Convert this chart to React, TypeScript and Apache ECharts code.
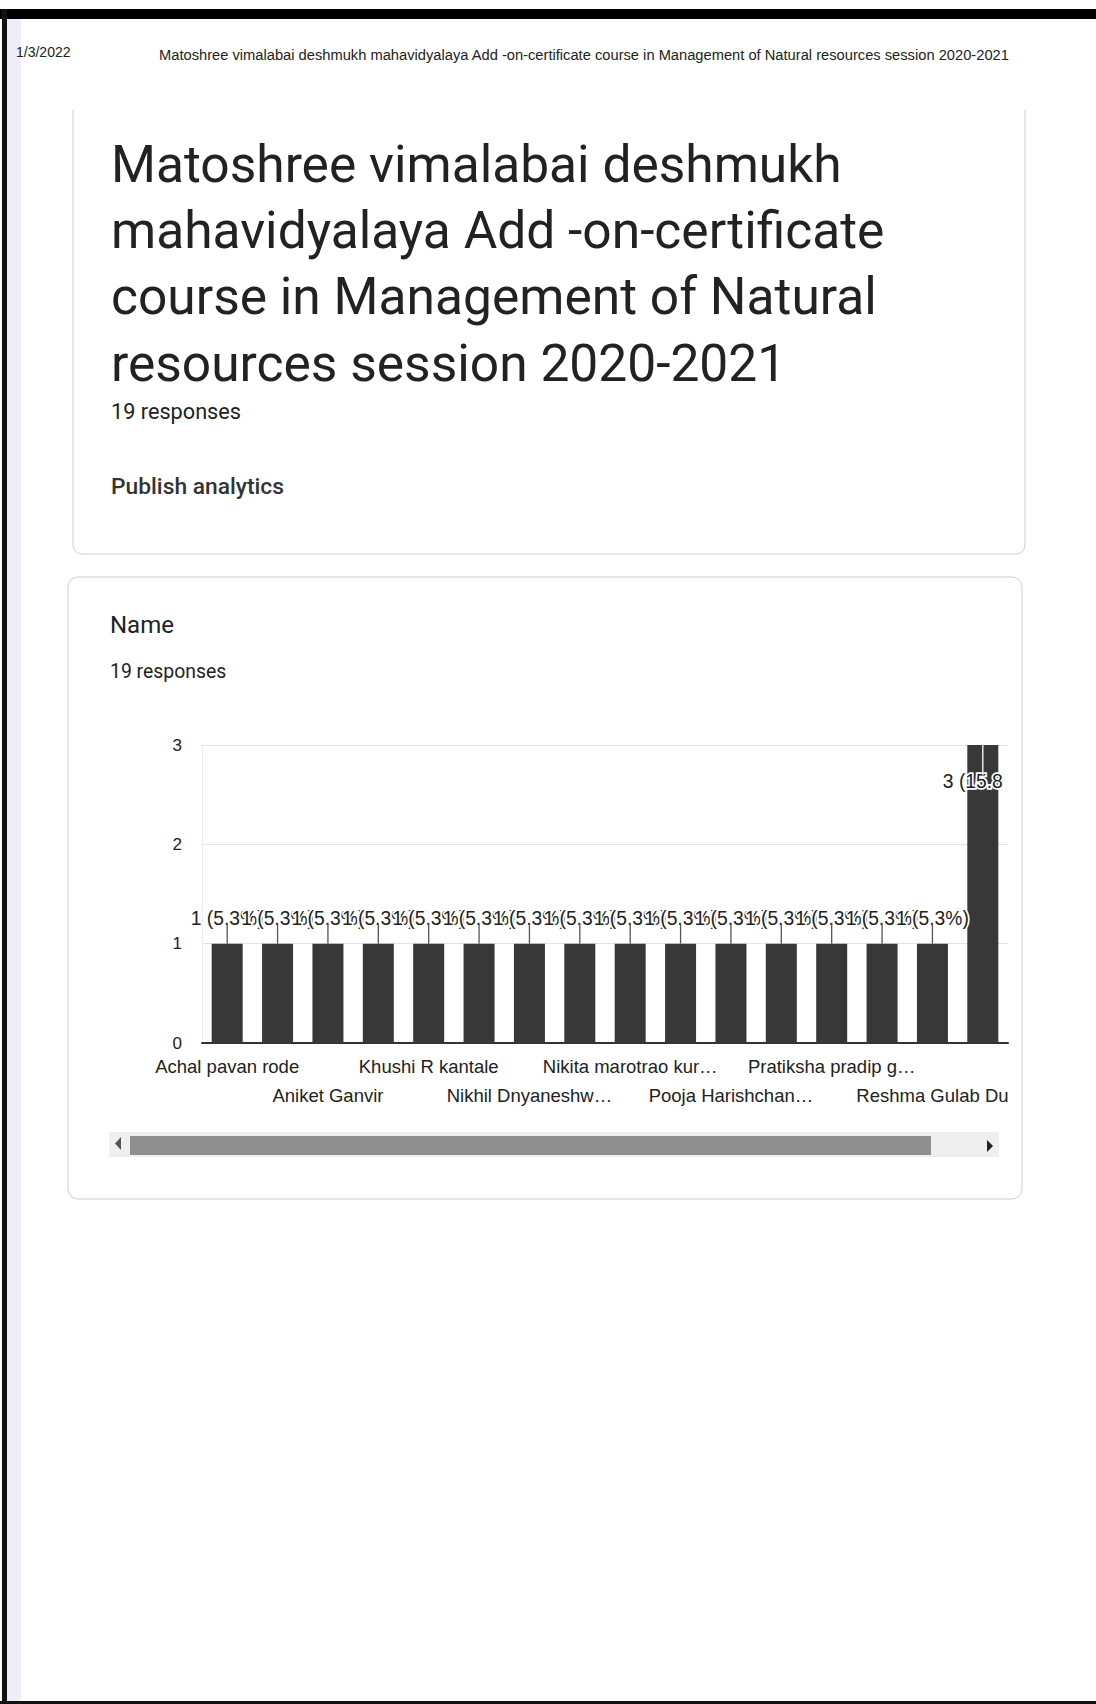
import React, { useEffect, useRef } from "react";
import * as echarts from "echarts";

// ---- data ----
const pageDate = "1/3/2022";
const formTitle =
  "Matoshree vimalabai deshmukh mahavidyalaya Add -on-certificate course in Management of Natural resources session 2020-2021";
const titleLines = [
  "Matoshree vimalabai deshmukh",
  "mahavidyalaya Add -on-certificate",
  "course in Management of Natural",
  "resources session 2020-2021",
];
const totalResponses = 19;
const questionTitle = "Name";
// names of the visible part of the scrolled chart (odd-indexed names are hidden by the chart)
const names = [
  "Achal pavan rode",
  "",
  "Aniket Ganvir",
  "",
  "Khushi R kantale",
  "",
  "Nikhil Dnyaneshw…",
  "",
  "Nikita marotrao kur…",
  "",
  "Pooja Harishchan…",
  "",
  "Pratiksha pradip g…",
  "",
  "Reshma Gulab Du",
  "",
];
const counts = [1, 1, 1, 1, 1, 1, 1, 1, 1, 1, 1, 1, 1, 1, 1, 3];
const yTicks = [0, 1, 2, 3];

const yMax = yTicks[yTicks.length - 1];
const pct = (v: number) => ((v / totalResponses) * 100).toFixed(1);

export default function App() {
  const ref = useRef<HTMLDivElement>(null);
  useEffect(() => {
    if (!ref.current) return;
    const chart = echarts.init(ref.current, undefined, { renderer: "svg" });
    const labelFont = "Liberation Sans";
    const catLabel = (row: number) => ({
      interval: (i: number) => i % 4 === row * 2,
      hideOverlap: false,
      margin: 14 + row * 29,
      fontSize: 18.5,
      fontFamily: labelFont,
      color: "#222",
      verticalAlign: "top",
    });
    const option: any = {
      animation: false,
      backgroundColor: "#ffffff",
      graphic: [
        // scan edges
        { type: "rect", shape: { x: 0, y: 9, width: 1096, height: 10 }, style: { fill: "#000" }, z: 1 },
        { type: "rect", shape: { x: 2, y: 9, width: 5, height: 1695 }, style: { fill: "#111" }, z: 1 },
        { type: "rect", shape: { x: 7, y: 19, width: 14, height: 1685 }, style: { fill: "#efedf7" }, z: 0 },
        { type: "rect", shape: { x: 0, y: 1701, width: 1096, height: 3 }, style: { fill: "#111" }, z: 1 },
        // print header
        {
          type: "text",
          x: 16,
          y: 52,
          style: { text: pageDate, fontSize: 14, fontFamily: labelFont, fill: "#222", verticalAlign: "middle", align: "left" },
        },
        {
          type: "text",
          x: 159,
          y: 55,
          style: { text: formTitle, fontSize: 14.7, fontFamily: labelFont, fill: "#222", verticalAlign: "middle", align: "left" },
        },
        // card 1
        {
          type: "rect",
          shape: { x: 73, y: 80, width: 952, height: 474, r: 9 },
          style: { fill: "#fff", stroke: "#cfcfcf", lineWidth: 1 },
          z: 1,
        },
        { type: "rect", shape: { x: 70, y: 76, width: 960, height: 34 }, style: { fill: "#fff" }, z: 2 },
        ...titleLines.map((t, i) => ({
          type: "text",
          x: 111,
          y: 164 + i * 66.4,
          z: 3,
          style: { text: t, fontSize: 51.5, fontFamily: "Roboto", fill: "#222", verticalAlign: "middle", align: "left" },
        })),
        {
          type: "text",
          x: 111,
          y: 411,
          z: 3,
          style: { text: `${totalResponses} responses`, fontSize: 21.7, fontFamily: "Roboto", fill: "#222", verticalAlign: "middle", align: "left" },
        },
        {
          type: "text",
          x: 111,
          y: 486,
          z: 3,
          style: { text: "Publish analytics", fontSize: 22.8, fontWeight: 500, fontFamily: "Roboto", fill: "#333", verticalAlign: "middle", align: "left" },
        },
        // card 2
        {
          type: "rect",
          shape: { x: 68, y: 577, width: 954, height: 622, r: 10 },
          style: { fill: "rgba(255,255,255,0)", stroke: "#cfcfcf", lineWidth: 1 },
          z: 1,
        },
        {
          type: "text",
          x: 110,
          y: 625,
          z: 3,
          style: { text: questionTitle, fontSize: 24, fontFamily: "Roboto", fill: "#222", verticalAlign: "middle", align: "left" },
        },
        {
          type: "text",
          x: 110,
          y: 671,
          z: 3,
          style: { text: `${totalResponses} responses`, fontSize: 19.4, fontFamily: "Roboto", fill: "#222", verticalAlign: "middle", align: "left" },
        },
        // scrollbar
        { type: "rect", shape: { x: 109, y: 1132, width: 890, height: 25 }, style: { fill: "#efefef" }, z: 2 },
        { type: "rect", shape: { x: 130, y: 1136, width: 801, height: 19 }, style: { fill: "#8f8f8f" }, z: 3 },
        {
          type: "polygon",
          shape: { points: [[121, 1137], [121, 1150], [115, 1143.5]] },
          style: { fill: "#555" },
          z: 3,
        },
        {
          type: "polygon",
          shape: { points: [[987, 1140], [987, 1152], [993, 1146]] },
          style: { fill: "#222" },
          z: 3,
        },
      ],
      grid: { left: 202, top: 745, width: 806, height: 298, containLabel: false },
      xAxis: [
        {
          type: "category",
          data: names,
          position: "bottom",
          axisTick: { show: false },
          axisLine: { lineStyle: { color: "#333", width: 2 } },
          axisLabel: catLabel(0),
        },
        {
          type: "category",
          data: names,
          position: "bottom",
          axisTick: { show: false },
          axisLine: { show: false },
          axisLabel: catLabel(1),
        },
      ],
      yAxis: {
        type: "value",
        min: yTicks[0],
        max: yMax,
        interval: 1,
        axisLine: { show: true, lineStyle: { color: "#ececec" } },
        axisTick: { show: false },
        splitLine: { lineStyle: { color: "#e3e3e3" } },
        axisLabel: { fontSize: 17, fontFamily: labelFont, color: "#222", margin: 20 },
      },
      series: [
        {
          type: "bar",
          xAxisIndex: 0,
          barWidth: 31,
          itemStyle: { color: "#383838" },
          z: 2,
          label: {
            show: true,
            position: "top",
            distance: 16,
            fontSize: 19.3,
            fontFamily: labelFont,
            color: "#222",
            textBorderColor: "#fff",
            textBorderWidth: 3.5,
            formatter: (p: any) => `${p.value} (${pct(p.value)}%)`,
          },
          labelLayout: (p: any) =>
            counts[p.dataIndex] >= yMax ? { hideOverlap: false, dx: -10 } : { hideOverlap: false },
          data: counts.map((v) =>
            v >= yMax
              ? {
                  value: v,
                  label: {
                    position: "insideTop",
                    distance: 27,
                    width: 76,
                    overflow: "truncate",
                    ellipsis: "",
                  },
                }
              : v
          ),
        },
        {
          type: "custom",
          xAxisIndex: 0,
          z: 3,
          silent: true,
          encode: { x: 0, y: 1 },
          renderItem: (params: any, api: any) => {
            const v = api.value(1);
            const top = api.coord([api.value(0), v]);
            const inside = v >= yMax;
            return {
              type: "line",
              shape: { x1: top[0], y1: top[1], x2: top[0], y2: inside ? top[1] + 30 : top[1] - 20 },
              style: { stroke: inside ? "#ffffff" : "#555", lineWidth: 1.3 },
            };
          },
          data: counts.map((v, i) => [i, v]),
        },
      ],
    };
    chart.setOption(option);
    return () => chart.dispose();
  }, []);
  return <div ref={ref} style={{ position: "absolute", left: 0, top: 0, width: 1096, height: 1704 }} />;
}
